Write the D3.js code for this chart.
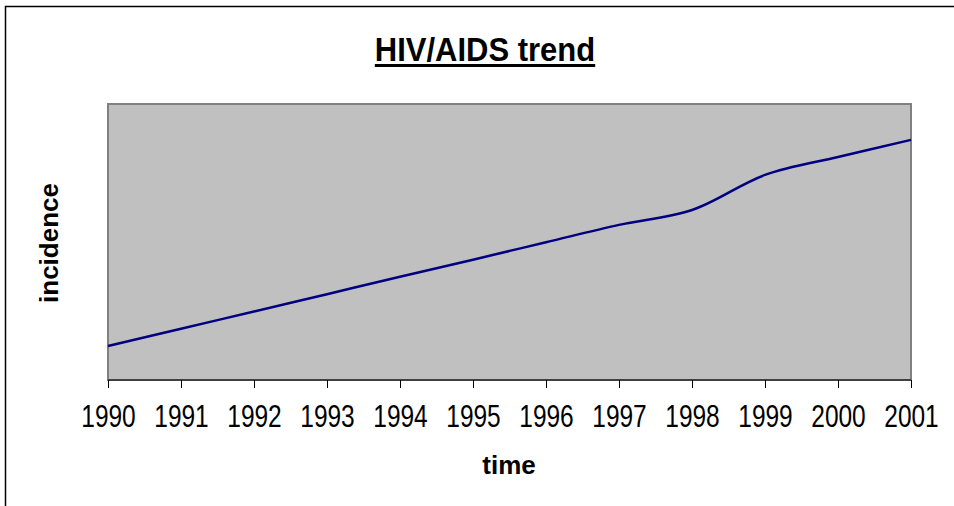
<!DOCTYPE html>
<meta charset="utf-8">
<style>
  html, body { margin: 0; padding: 0; background: #fff; overflow: hidden; }
  svg { display: block; font-family: "Liberation Sans", Arial, sans-serif; }
  .axis path, .axis line { stroke: #000; stroke-width: 1px; fill: none; }
  .axis text { fill: #000; font-size: 24.5px; }
</style>
<svg></svg>
<script src="https://d3js.org/d3.v7.min.js"></script>
<script>
// chart data
var years = [1990, 1991, 1992, 1993, 1994, 1995, 1996, 1997, 1998, 1999, 2000, 2001];
var incidence = [12.3, 18.6, 24.8, 31.1, 37.4, 43.6, 49.9, 56.2, 61.6, 74.3, 80.8, 87.0];

var W = 954, H = 506;
var plot = {left: 108, top: 104, right: 911, bottom: 380};

var svg = d3.select("svg").attr("width", W).attr("height", H);

// outer chart frame (cropped on right and bottom)
svg.append("rect")
    .attr("x", 5.5).attr("y", 6.5)
    .attr("width", 970).attr("height", 520)
    .attr("fill", "#fff").attr("stroke", "#000").attr("stroke-width", 1.5);

var x = d3.scalePoint().domain(years).range([plot.left, plot.right]);
var y = d3.scaleLinear().domain([0, 100]).range([plot.bottom, plot.top]);

// plot area
svg.append("rect")
    .attr("x", plot.left).attr("y", plot.top)
    .attr("width", plot.right - plot.left).attr("height", plot.bottom - plot.top)
    .attr("fill", "#c0c0c0").attr("stroke", "#808080").attr("stroke-width", 2);

var line = d3.line()
    .x(function(d, i) { return x(years[i]); })
    .y(function(d) { return y(d); })
    .curve(d3.curveCatmullRom.alpha(0.5));

svg.append("path")
    .datum(incidence)
    .attr("d", line)
    .attr("fill", "none")
    .attr("stroke", "#000080")
    .attr("stroke-width", 2.5);

svg.append("g")
    .attr("class", "axis")
    .attr("transform", "translate(0," + plot.bottom + ")")
    .call(d3.axisBottom(x).tickSize(8).tickFormat(d3.format("d")))
    .call(function(g) {
      g.select(".domain").attr("d", "M" + plot.left + ",0H" + plot.right);
      // labels are a little taller than plain Arial
      g.selectAll(".tick text")
        .attr("y", 0).attr("dy", 0)
        .attr("transform", "translate(0,47) scale(1,1.25)");
    });

// title with a heavy underline
var title = svg.append("text")
    .attr("transform", "translate(485,61) scale(1,1.1)")
    .attr("text-anchor", "middle")
    .style("font-size", "31px").style("font-weight", "bold")
    .text("HIV/AIDS trend");
var tw = title.node().getComputedTextLength();
svg.append("line")
    .attr("x1", 485 - tw / 2).attr("x2", 485 + tw / 2)
    .attr("y1", 65.5).attr("y2", 65.5)
    .attr("stroke", "#000").attr("stroke-width", 3);

svg.append("text")
    .attr("x", 509).attr("y", 474)
    .attr("text-anchor", "middle")
    .style("font-size", "26px").style("font-weight", "bold")
    .text("time");

svg.append("text")
    .attr("transform", "translate(58,243) rotate(-90)")
    .attr("text-anchor", "middle")
    .style("font-size", "26px").style("font-weight", "bold")
    .text("incidence");
</script>
